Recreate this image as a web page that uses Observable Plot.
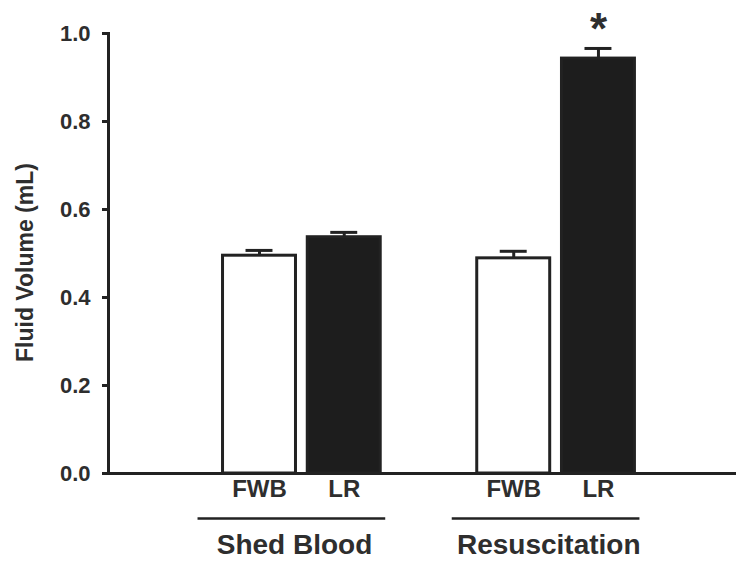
<!DOCTYPE html>
<html>
<head>
<meta charset="utf-8">
<script src="https://cdn.jsdelivr.net/npm/d3@7"></script>
<script src="https://cdn.jsdelivr.net/npm/@observablehq/plot@0.6"></script>
<style>
  html, body { margin: 0; padding: 0; background: #fff; }
  #chart svg { display: block; font-family: "Liberation Sans", Arial, sans-serif; }
</style>
</head>
<body>
<div id="chart"></div>
<script>
// ---- data ----
const groups = ["Shed Blood", "Shed Blood", "Resuscitation", "Resuscitation"];
const fluids = ["FWB", "LR", "FWB", "LR"];
const means = [0.495, 0.537, 0.489, 0.943];
const sems = [0.012, 0.011, 0.016, 0.023];
const significant = [false, false, false, true];
const groupNames = ["Shed Blood", "Resuscitation"];
const yTicks = [0, 0.2, 0.4, 0.6, 0.8, 1.0];
const yLabel = "Fluid Volume (mL)";

// ---- derived tables ----
const keyOf = (g, f) => g + " " + f;
const data = groups.map((g, i) => ({
  key: keyOf(g, fluids[i]), group: g, fluid: fluids[i],
  mean: means[i], sem: sems[i], sig: significant[i]
}));
const spacer = "__gap__";
const xDomain = [data[0].key, data[1].key, spacer, data[2].key, data[3].key];
const fluidOfKey = new Map(data.map(d => [d.key, d.fluid]));
const groupRows = groupNames.map(g => ({group: g, first: keyOf(g, "FWB"), last: keyOf(g, "LR")}));

const ink = "#222";
const textInk = "#2e2e2e";

const chart = Plot.plot({
  width: 736,
  height: 564,
  marginLeft: 108,
  marginRight: 0,
  marginTop: 33,
  marginBottom: 91,
  style: {fontFamily: "'Liberation Sans', Arial, sans-serif", background: "#fff"},
  x: {type: "band", domain: xDomain, paddingInner: 0.139, paddingOuter: 1.275, align: 0.53, round: false},
  y: {domain: [0, 1]},
  color: {domain: ["FWB", "LR"], range: ["#ffffff", "#1d1d1d"]},
  marks: [
    Plot.barY(data, {x: "key", y: "mean", fill: "fluid", stroke: ink, strokeWidth: 3}),
    Plot.ruleX(data, {x: "key", y1: "mean", y2: d => d.mean + d.sem, stroke: ink, strokeWidth: 3}),
    Plot.tickY(data, {x: "key", y: d => d.mean + d.sem, stroke: ink, strokeWidth: 3, inset: 23}),
    Plot.text(data.filter(d => d.sig), {x: "key", y: d => d.mean + d.sem, text: () => "*",
      dy: -19, fontSize: 44, fontWeight: "bold", fill: textInk}),
    Plot.ruleY([0], {stroke: ink, strokeWidth: 3}),
    Plot.frame({anchor: "left", stroke: ink, strokeWidth: 3}),
    Plot.axisY({ticks: yTicks, tickFormat: d3.format(".1f"), tickSize: 6, tickPadding: 12,
      fontSize: 22, fontWeight: "bold", color: textInk, stroke: ink, strokeWidth: 3, label: null}),
    Plot.text([yLabel], {frameAnchor: "left", textAnchor: "middle", lineAnchor: "middle", rotate: -90,
      dx: -83, dy: 9, text: d => d, fontSize: 23, fontWeight: "bold", fill: textInk}),
    Plot.axisX({tickSize: 0, tickPadding: 6, fontSize: 24, fontWeight: "bold", color: textInk,
      tickFormat: k => fluidOfKey.get(k) ?? "", label: null}),
    Plot.ruleY(groupRows, {x1: "first", x2: "last", y: () => 0, dy: 45, stroke: ink, strokeWidth: 2.5,
      insetLeft: -25, insetRight: -5}),
    Plot.text(groupRows, {x: "first", y: () => 0, dy: 72, dx: 35, text: "group",
      fontSize: 28, fontWeight: "bold", fill: textInk})
  ]
});
document.getElementById("chart").append(chart);
</script>
</body>
</html>
